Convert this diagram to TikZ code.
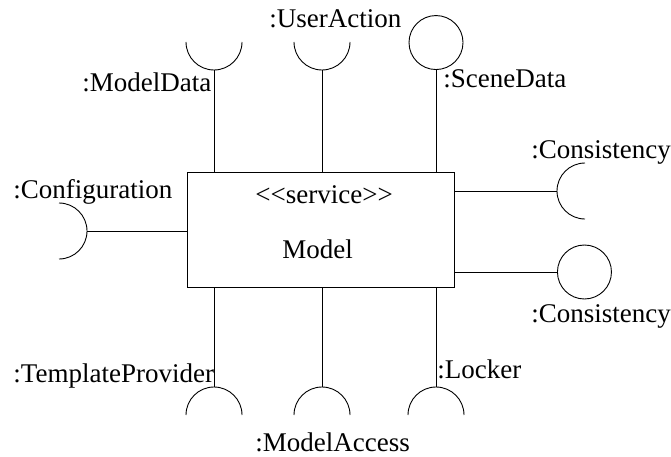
\documentclass[tikz,border=0pt]{standalone}
\usepackage{fontspec}
\setmainfont[Ligatures=NoCommon]{Liberation Serif}
\begin{document}
\begin{tikzpicture}[x=1pt,y=1pt,line width=0.9pt,
  lbl/.style={anchor=base west,inner sep=0pt,font=\fontsize{27}{32}\selectfont},
  iface/.style={line width=0.9pt}]
\useasboundingbox (0,0) rectangle (671,456);
% component
\node[draw,line width=0.9pt,minimum width=267pt,minimum height=115pt,inner sep=0pt] (model) at (320.5,226.5) {};
\node[lbl] (stereo) at (255,253) {{<}{<}service{>}{>}};
\node[lbl] (mname) at (282,198) {Model};
% socket / ball points
\coordinate (t1) at (214,386);
\coordinate (t2) at (322,386);
\coordinate (t3) at (436,386);
\coordinate (b1) at (214,69);
\coordinate (b2) at (322,69);
\coordinate (b3) at (436,69);
\coordinate (l1) at (87,225);
\coordinate (r1) at (557,265);
\coordinate (r2) at (557,184);
% connectors
\draw[iface] (model.north -| t1) -- (t1);
\draw[iface] (model.north -| t2) -- (t2);
\draw[iface] (model.north -| t3) -- (t3);
\draw[iface] (model.south -| b1) -- (b1);
\draw[iface] (model.south -| b2) -- (b2);
\draw[iface] (model.south -| b3) -- (b3);
\draw[iface] (model.west |- l1) -- (l1);
\draw[iface] (model.east |- r1) -- (r1);
\draw[iface] (model.east |- r2) -- (r2);
% sockets (top)
\draw[iface] ([xshift=-28pt,yshift=28pt]t1) arc[start angle=180,end angle=360,radius=28pt];
\draw[iface] ([xshift=-28pt,yshift=28pt]t2) arc[start angle=180,end angle=360,radius=28pt];
\node[draw,circle,minimum size=54pt,inner sep=0pt,anchor=south,line width=0.9pt] (ball1) at (t3) {};
% sockets (bottom)
\draw[iface] ([xshift=-28pt,yshift=-28pt]b1) arc[start angle=180,end angle=0,radius=28pt];
\draw[iface] ([xshift=-28pt,yshift=-28pt]b2) arc[start angle=180,end angle=0,radius=28pt];
\draw[iface] ([xshift=-28pt,yshift=-28pt]b3) arc[start angle=180,end angle=0,radius=28pt];
% left socket
\draw[iface] ([xshift=-28pt,yshift=28pt]l1) arc[start angle=90,end angle=-90,radius=28pt];
% right socket and ball
\draw[iface] ([xshift=28pt,yshift=28pt]r1) arc[start angle=90,end angle=270,radius=28pt];
\node[draw,circle,minimum size=54pt,inner sep=0pt,anchor=west,line width=0.9pt] (ball2) at (r2) {};
% labels
\node[lbl] (la) at (269,428) {:UserAction};
\node[lbl] (lb) at (82,364) {:ModelData};
\node[lbl] (lc) at (443,368) {:SceneData};
\node[lbl] (ld) at (531,298) {:Consistency};
\node[lbl] (le) at (13,258) {:Configuration};
\node[lbl] (lf) at (531,134) {:Consistency};
\node[lbl] (lg) at (13,74) {:TemplateProvider};
\node[lbl] (lh) at (437,78) {:Locker};
\node[lbl] (li) at (255,5) {:ModelAccess};
\end{tikzpicture}
\end{document}
